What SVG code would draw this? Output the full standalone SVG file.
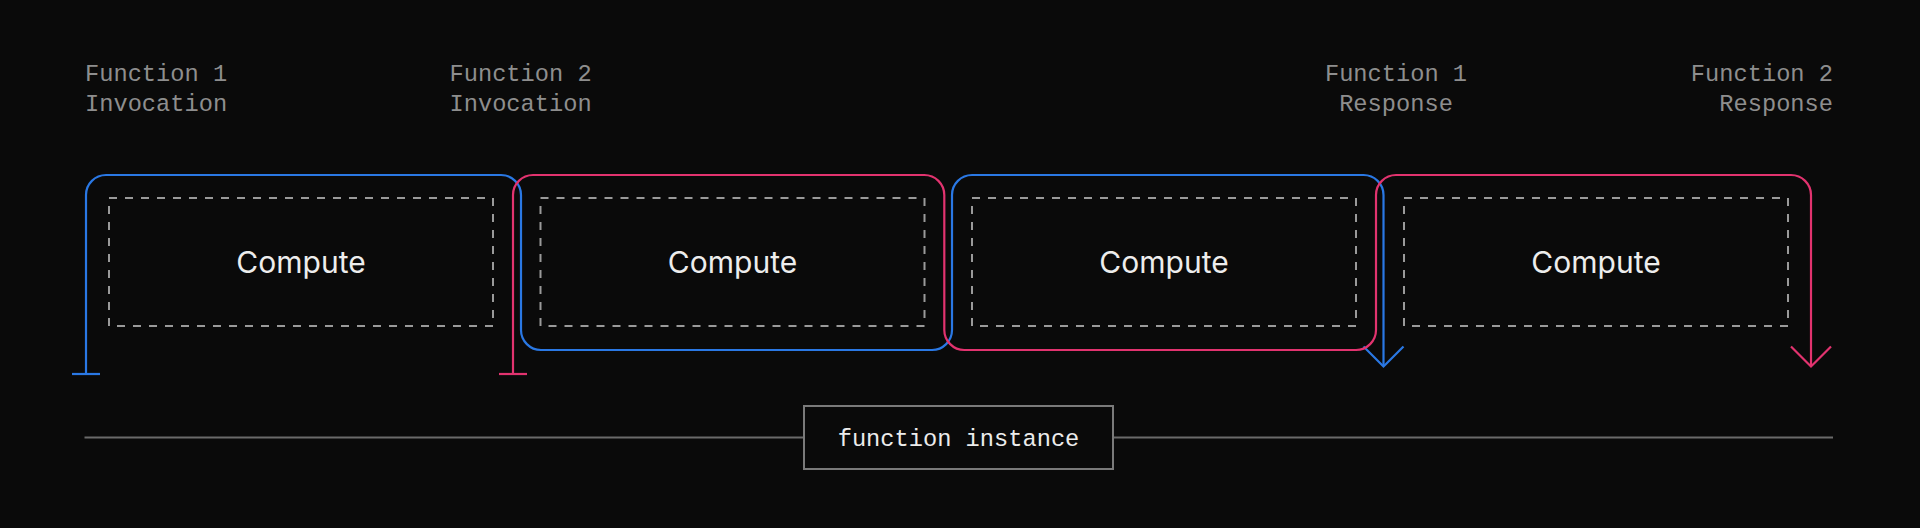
<svg xmlns="http://www.w3.org/2000/svg" width="1920" height="528" viewBox="0 0 1920 528">
  <style>
    .label { font-family: "Liberation Mono", "DejaVu Sans Mono", monospace; font-size: 23.7px; fill: #8e8e8e; }
    .compute { font-family: Inter, "Liberation Sans", sans-serif; font-size: 30px; fill: #ededed; text-anchor: middle; }
    .dash { fill: none; stroke: #9a9a9a; stroke-width: 2; stroke-dasharray: 8 8; }
    .blue { fill: none; stroke: #2a78e4; stroke-width: 2.2; }
    .pink { fill: none; stroke: #e2336f; stroke-width: 2.2; }
    .inst { font-family: "Liberation Mono", "DejaVu Sans Mono", monospace; font-size: 23.7px; fill: #ececec; text-anchor: middle; }
  </style>
  <rect width="1920" height="528" fill="#0a0a0a"/>

  <g id="labels">
    <text class="label" x="85" y="80.5">Function 1</text>
    <text class="label" x="85" y="111">Invocation</text>
    <text class="label" x="449.5" y="80.5">Function 2</text>
    <text class="label" x="449.5" y="111">Invocation</text>
    <text class="label" x="1396" y="80.5" text-anchor="middle">Function 1</text>
    <text class="label" x="1396" y="111" text-anchor="middle">Response</text>
    <text class="label" x="1833" y="80.5" text-anchor="end">Function 2</text>
    <text class="label" x="1833" y="111" text-anchor="end">Response</text>
  </g>

  <g id="compute1">
    <rect class="dash" x="109" y="198" width="384" height="128"/>
    <text class="compute" x="301" y="273">Compute</text>
  </g>
  <g id="compute2">
    <rect class="dash" x="540.5" y="198" width="384" height="128"/>
    <text class="compute" x="732.5" y="273">Compute</text>
  </g>
  <g id="compute3">
    <rect class="dash" x="972" y="198" width="384" height="128"/>
    <text class="compute" x="1164" y="273">Compute</text>
  </g>
  <g id="compute4">
    <rect class="dash" x="1404" y="198" width="384" height="128"/>
    <text class="compute" x="1596" y="273">Compute</text>
  </g>

  <g id="connectors">
    <path class="blue" d="M86 374 V195 A20 20 0 0 1 106 175 H501 A20 20 0 0 1 521 195 V330 A20 20 0 0 0 541 350 H932 A20 20 0 0 0 952 330 V195 A20 20 0 0 1 972 175 H1363.5 A20 20 0 0 1 1383.5 195 V366"/>
    <path class="blue" d="M72 374 H100"/>
    <path class="blue" d="M1363.5 346.5 L1383.5 366.5 L1403.5 346.5"/>
    <path class="pink" d="M513 374 V195 A20 20 0 0 1 533 175 H924.3 A20 20 0 0 1 944.3 195 V330 A20 20 0 0 0 964.3 350 H1356 A20 20 0 0 0 1376 330 V195 A20 20 0 0 1 1396 175 H1791 A20 20 0 0 1 1811 195 V366"/>
    <path class="pink" d="M499 374 H527"/>
    <path class="pink" d="M1791 346.5 L1811 366.5 L1831 346.5"/>
    <line x1="84.5" y1="437.5" x2="1833" y2="437.5" stroke="#6a6a6a" stroke-width="2"/>
  </g>

  <g id="function-instance">
    <rect x="804" y="406" width="309" height="63" fill="#0a0a0a" stroke="#7a7a7a" stroke-width="2"/>
    <text class="inst" x="958.5" y="446">function instance</text>
  </g>
</svg>
